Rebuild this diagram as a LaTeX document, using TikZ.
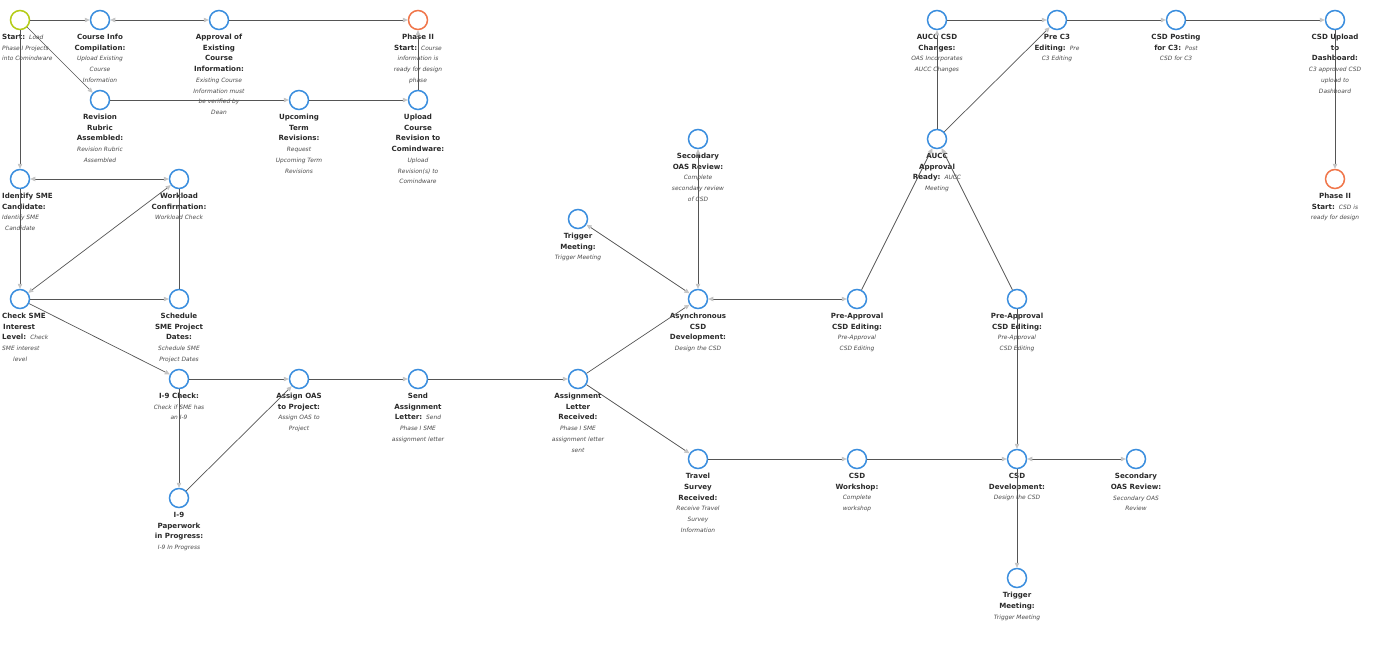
\documentclass[tikz,border=0pt]{standalone}
\usepackage{fontspec}
\setmainfont{DejaVu Sans}
\usetikzlibrary{arrows.meta}
\definecolor{nodeblue}{HTML}{3B8EDE}
\definecolor{startgreen}{HTML}{B5CC18}
\definecolor{phaseorange}{HTML}{F0764A}
\definecolor{edgecol}{HTML}{555555}
\definecolor{tipcol}{HTML}{C4C4C4}
\definecolor{titlecol}{HTML}{2B2B2B}
\definecolor{desccol}{HTML}{4A4A4A}
\newcommand\xT[1]{{\fontsize{7.1}{10.7}\selectfont\bfseries\color{titlecol}#1}}
\newcommand\xD[1]{{\fontsize{5.9}{10.7}\selectfont\itshape\color{desccol}#1}}
\newcommand\xG{\hspace{4pt}}
\tikzset{
  tipx/.tip={Triangle[length=5pt,width=4.5pt,color=tipcol]},
  state/.style={circle, draw=nodeblue, line width=1.5pt, fill=white, minimum size=19pt, inner sep=0pt},
  startstate/.style={state, draw=startgreen},
  phasestate/.style={state, draw=phaseorange},
  lbl/.style={anchor=north, align=center, inner sep=0pt, font=\fontsize{7.1}{10.7}\selectfont},
  lblw/.style={anchor=north west, align=left, inner sep=0pt, font=\fontsize{7.1}{10.7}\selectfont},
  link/.style={draw=edgecol, line width=0.7pt},
  flow/.style={link, -tipx},
  biflow/.style={link, tipx-tipx}
}
\begin{document}
\begin{tikzpicture}[x=1pt,y=-1pt]
\useasboundingbox[fill=white] (0,0) rectangle (1384,645);
% ---------- labels ----------
\node[lblw] (Lstart) at (2,34) {\xT{Start:}\xG\xD{Load}\\\xD{Phase I Projects}\\\xD{into Comindware}};
\node[lbl] (Lcic) at (100,34) {\xT{Course Info}\\\xT{Compilation:}\\\xD{Upload Existing}\\\xD{Course}\\\xD{Information}};
\node[lbl] (Lappr) at (219,34) {\xT{Approval of}\\\xT{Existing}\\\xT{Course}\\\xT{Information:}\\\xD{Existing Course}\\\xD{Information must}\\\xD{be verified by}\\\xD{Dean}};
\node[lbl] (Lph1) at (418,34) {\xT{Phase II}\\\xT{Start:}\xG\xD{Course}\\\xD{information is}\\\xD{ready for design}\\\xD{phase}};
\node[lbl] (Lrubric) at (100,114) {\xT{Revision}\\\xT{Rubric}\\\xT{Assembled:}\\\xD{Revision Rubric}\\\xD{Assembled}};
\node[lbl] (Lupterm) at (299,114) {\xT{Upcoming}\\\xT{Term}\\\xT{Revisions:}\\\xD{Request}\\\xD{Upcoming Term}\\\xD{Revisions}};
\node[lbl] (Lupload) at (418,114) {\xT{Upload}\\\xT{Course}\\\xT{Revision to}\\\xT{Comindware:}\\\xD{Upload}\\\xD{Revision(s) to}\\\xD{Comindware}};
\node[lblw] (Lident) at (2,193) {\xT{Identify SME}\\\xT{Candidate:}\\\xD{Identify SME}\\\hspace*{3pt}\xD{Candidate}};
\node[lbl] (Lwork) at (179,193) {\xT{Workload}\\\xT{Confirmation:}\\\xD{Workload Check}};
\node[lblw] (Lchk) at (2,313) {\xT{Check SME}\\\hspace*{1pt}\xT{Interest}\\\xT{Level:}\xG\xD{Check}\\\xD{SME interest}\\\hspace*{11pt}\xD{level}};
\node[lbl] (Lsched) at (179,313) {\xT{Schedule}\\\xT{SME Project}\\\xT{Dates:}\\\xD{Schedule SME}\\\xD{Project Dates}};
\node[lbl] (Lichk) at (179,393) {\xT{I-9 Check:}\\\xD{Check if SME has}\\\xD{an I-9}};
\node[lbl] (Laoas) at (299,393) {\xT{Assign OAS}\\\xT{to Project:}\\\xD{Assign OAS to}\\\xD{Project}};
\node[lbl] (Lsend) at (418,393) {\xT{Send}\\\xT{Assignment}\\\xT{Letter:}\xG\xD{Send}\\\xD{Phase I SME}\\\xD{assignment letter}};
\node[lbl] (Lrecv) at (578,393) {\xT{Assignment}\\\xT{Letter}\\\xT{Received:}\\\xD{Phase I SME}\\\xD{assignment letter}\\\xD{sent}};
\node[lbl] (Lipap) at (179,512) {\xT{I-9}\\\xT{Paperwork}\\\xT{in Progress:}\\\xD{I-9 In Progress}};
\node[lbl] (Ltrig1) at (578,233) {\xT{Trigger}\\\xT{Meeting:}\\\xD{Trigger Meeting}};
\node[lbl] (Lsec1) at (698,153) {\xT{Secondary}\\\xT{OAS Review:}\\\xD{Complete}\\\xD{secondary review}\\\xD{of CSD}};
\node[lbl] (Lasync) at (698,313) {\xT{Asynchronous}\\\xT{CSD}\\\xT{Development:}\\\xD{Design the CSD}};
\node[lbl] (Lpre1) at (857,313) {\xT{Pre-Approval}\\\xT{CSD Editing:}\\\xD{Pre-Approval}\\\xD{CSD Editing}};
\node[lbl] (Laucc) at (937,153) {\xT{AUCC}\\\xT{Approval}\\\xT{Ready:}\xG\xD{AUCC}\\\xD{Meeting}};
\node[lbl] (Lpre2) at (1017,313) {\xT{Pre-Approval}\\\xT{CSD Editing:}\\\xD{Pre-Approval}\\\xD{CSD Editing}};
\node[lbl] (Lauch) at (937,34) {\xT{AUCC CSD}\\\xT{Changes:}\\\xD{OAS Incorporates}\\\xD{AUCC Changes}};
\node[lbl] (Lpc3) at (1057,34) {\xT{Pre C3}\\\xT{Editing:}\xG\xD{Pre}\\\xD{C3 Editing}};
\node[lbl] (Lpost) at (1176,34) {\xT{CSD Posting}\\\xT{for C3:}\xG\xD{Post}\\\xD{CSD for C3}};
\node[lbl] (Ldash) at (1335,34) {\xT{CSD Upload}\\\xT{to}\\\xT{Dashboard:}\\\xD{C3 approved CSD}\\\xD{upload to}\\\xD{Dashboard}};
\node[lbl] (Lph2) at (1335,193) {\xT{Phase II}\\\xT{Start:}\xG\xD{CSD is}\\\xD{ready for design}};
\node[lbl] (Ltrav) at (698,473) {\xT{Travel}\\\xT{Survey}\\\xT{Received:}\\\xD{Receive Travel}\\\xD{Survey}\\\xD{Information}};
\node[lbl] (Lwshop) at (857,473) {\xT{CSD}\\\xT{Workshop:}\\\xD{Complete}\\\xD{workshop}};
\node[lbl] (Ldev) at (1017,473) {\xT{CSD}\\\xT{Development:}\\\xD{Design the CSD}};
\node[lbl] (Lsec2) at (1136,473) {\xT{Secondary}\\\xT{OAS Review:}\\\xD{Secondary OAS}\\\xD{Review}};
\node[lbl] (Ltrig2) at (1017,592) {\xT{Trigger}\\\xT{Meeting:}\\\xD{Trigger Meeting}};
% ---------- circles ----------
\node[startstate] (start) at (20,20) {};
\node[state] (cic) at (100,20) {};
\node[state] (appr) at (219,20) {};
\node[phasestate] (ph1) at (418,20) {};
\node[state] (rubric) at (100,100) {};
\node[state] (upterm) at (299,100) {};
\node[state] (upload) at (418,100) {};
\node[state] (ident) at (20,179) {};
\node[state] (work) at (179,179) {};
\node[state] (chk) at (20,299) {};
\node[state] (sched) at (179,299) {};
\node[state] (ichk) at (179,379) {};
\node[state] (aoas) at (299,379) {};
\node[state] (send) at (418,379) {};
\node[state] (recv) at (578,379) {};
\node[state] (ipap) at (179,498) {};
\node[state] (trig1) at (578,219) {};
\node[state] (sec1) at (698,139) {};
\node[state] (async) at (698,299) {};
\node[state] (pre1) at (857,299) {};
\node[state] (aucc) at (937,139) {};
\node[state] (pre2) at (1017,299) {};
\node[state] (auch) at (937,20) {};
\node[state] (pc3) at (1057,20) {};
\node[state] (post) at (1176,20) {};
\node[state] (dash) at (1335,20) {};
\node[phasestate] (ph2) at (1335,179) {};
\node[state] (trav) at (698,459) {};
\node[state] (wshop) at (857,459) {};
\node[state] (dev) at (1017,459) {};
\node[state] (sec2) at (1136,459) {};
\node[state] (trig2) at (1017,578) {};
% ---------- edges ----------
\draw[flow] (start) -- (cic);
\draw[biflow] (cic) -- (appr);
\draw[flow] (appr) -- (ph1);
\draw[flow] (start) -- (rubric);
\draw[flow] (rubric) -- (upterm);
\draw[flow] (upterm) -- (upload);
\draw[flow] (upload) -- (ph1);
\draw[flow] (start) -- (ident);
\draw[biflow] (ident) -- (work);
\draw[flow] (ident) -- (chk);
\draw[biflow] (chk) -- (work);
\draw[flow] (chk) -- (sched);
\draw[link] (sched) -- (work);
\draw[flow] (chk) -- (ichk);
\draw[flow] (ichk) -- (aoas);
\draw[flow] (ichk) -- (ipap);
\draw[flow] (ipap) -- (aoas);
\draw[flow] (aoas) -- (send);
\draw[flow] (send) -- (recv);
\draw[flow] (recv) -- (async);
\draw[flow] (recv) -- (trav);
\draw[biflow] (trig1) -- (async);
\draw[biflow] (sec1) -- (async);
\draw[biflow] (async) -- (pre1);
\draw[flow] (pre1) -- (aucc);
\draw[flow] (pre2) -- (aucc);
\draw[flow] (aucc) -- (auch);
\draw[flow] (aucc) -- (pc3);
\draw[flow] (auch) -- (pc3);
\draw[flow] (pc3) -- (post);
\draw[flow] (post) -- (dash);
\draw[flow] (dash) -- (ph2);
\draw[flow] (trav) -- (wshop);
\draw[flow] (wshop) -- (dev);
\draw[biflow] (dev) -- (sec2);
\draw[flow] (dev) -- (trig2);
\draw[flow] (pre2) -- (dev);
\end{tikzpicture}
\end{document}
